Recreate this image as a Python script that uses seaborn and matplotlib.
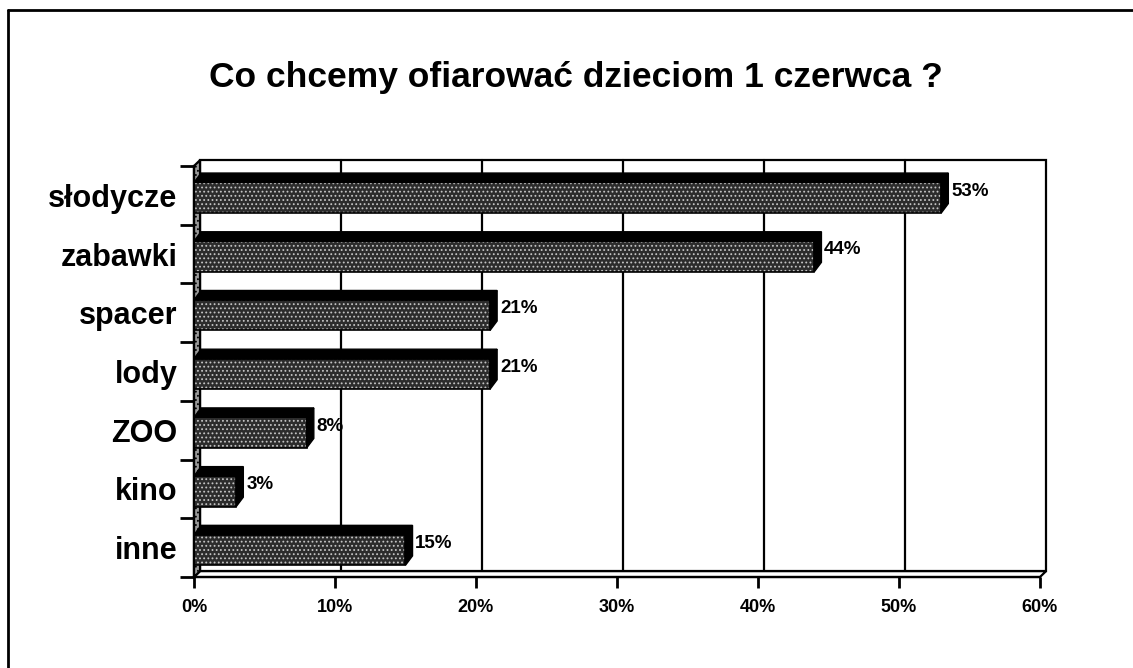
import matplotlib
matplotlib.use("Agg")
import matplotlib.pyplot as plt
from matplotlib.patches import Polygon, Rectangle
from matplotlib.lines import Line2D
import seaborn as sns
import pandas as pd

# dane z wykresu
kategorie = ["słodycze", "zabawki", "spacer", "lody", "ZOO", "kino", "inne"]
procenty = [53, 44, 21, 21, 8, 3, 15]
etykiety_x = ["0%", "10%", "20%", "30%", "40%", "50%", "60%"]
tytul = "Co chcemy ofiarować dzieciom 1 czerwca ?"

df = pd.DataFrame({"kategoria": kategorie, "procent": procenty})

sns.set_theme(style="white")
plt.rcParams["font.family"] = ["Liberation Sans", "DejaVu Sans"]
plt.rcParams["hatch.linewidth"] = 0.8
plt.rcParams["text.color"] = "black"
plt.rcParams["xtick.color"] = "black"
plt.rcParams["ytick.color"] = "black"

fig = plt.figure(figsize=(11.33, 6.68), dpi=100)
ax = fig.add_axes([0.1712, 0.1362, 0.7467, 0.6153])

# glebokosc efektu 3D (w jednostkach danych)
dx, dy = 0.43, 0.1      # sciany
bdx, bdy = 0.5, 0.16    # slupki
lw = 1.6

sns.barplot(data=df, x="procent", y="kategoria", orient="h", color="#2c2c2c",
            width=0.52, saturation=1, ax=ax, zorder=5)

ax.set_xlim(0, 60)
ax.set_ylim(6.5, -0.5)

# tylna sciana + linie siatki
ax.add_patch(Rectangle((dx, -0.5 - dy), 60, 7, fill=False, ec="black", lw=lw,
                       zorder=1, clip_on=False))
for xv in range(10, 60, 10):
    ax.plot([xv + dx, xv + dx], [-0.5 - dy, 6.5 - dy], color="black", lw=lw,
            zorder=1, clip_on=False)
    ax.plot([xv, xv + dx], [6.5, 6.5 - dy], color="black", lw=lw, zorder=2, clip_on=False)

# podloga
ax.add_patch(Polygon([(0, 6.5), (60, 6.5), (60 + dx, 6.5 - dy), (dx, 6.5 - dy)],
                     closed=True, fc="white", ec="black", lw=lw, zorder=2, clip_on=False))
# lewa sciana
ax.add_patch(Polygon([(0, -0.5), (dx, -0.5 - dy), (dx, 6.5 - dy), (0, 6.5)],
                     closed=True, fc="#9a9a9a", ec="black", lw=lw, hatch="....",
                     zorder=2, clip_on=False))

# slupki 3D
for p, val in zip(ax.patches[:len(procenty)], procenty):
    y0, h = p.get_y() + 0.04, p.get_height()
    p.set_y(y0)
    p.set_edgecolor("#c4c4c4")
    p.set_linewidth(0)
    p.set_hatch("....")
    ax.add_patch(Polygon([(0, y0), (val, y0), (val + bdx, y0 - bdy), (bdx, y0 - bdy)],
                         closed=True, fc="black", ec="black", lw=1, zorder=6, clip_on=False))
    ax.add_patch(Polygon([(val, y0), (val + bdx, y0 - bdy), (val + bdx, y0 + h - bdy),
                          (val, y0 + h)],
                         closed=True, fc="black", ec="black", lw=1, zorder=6, clip_on=False))
    ax.add_patch(Rectangle((0, y0), val, h, fill=False, ec="black", lw=1.2, zorder=6))
    ax.text(val + bdx + 0.2, y0 + h / 2 - bdy / 2 - 0.03, f"{val}%", fontsize=13.5,
            fontweight="bold", va="center", ha="left", zorder=7)

# osie
for s in ["top", "right"]:
    ax.spines[s].set_visible(False)
for s in ["left", "bottom"]:
    ax.spines[s].set_linewidth(lw)
    ax.spines[s].set_color("black")
    ax.spines[s].set_zorder(8)

ax.set_xticks(range(0, 70, 10))
ax.set_xticklabels(etykiety_x, fontsize=13, fontweight="bold")
ax.set_yticks(range(len(kategorie)))
ax.set_yticklabels(kategorie, fontsize=22, fontweight="bold")
ax.set_yticks([i + 0.5 for i in range(-1, len(kategorie))], minor=True)
ax.tick_params(axis="x", which="major", direction="out", length=8, width=2,
               color="black", pad=8, bottom=True)
ax.tick_params(axis="y", which="major", length=0, pad=12)
ax.tick_params(axis="y", which="minor", direction="out", length=10, width=2,
               color="black", left=True)
ax.set_xlabel("")
ax.set_ylabel("")
ax.grid(False)

fig.suptitle(tytul, x=0.508, y=1 - 78 / 668, va="center", fontsize=25.5,
             fontweight="bold")

# ramka
fig.add_artist(Line2D([8 / 1133, 8 / 1133], [0, 1 - 10 / 668], color="black", lw=2))
fig.add_artist(Line2D([8 / 1133, 1], [1 - 10 / 668, 1 - 10 / 668], color="black", lw=2))

fig.savefig("out.png", dpi=100)
